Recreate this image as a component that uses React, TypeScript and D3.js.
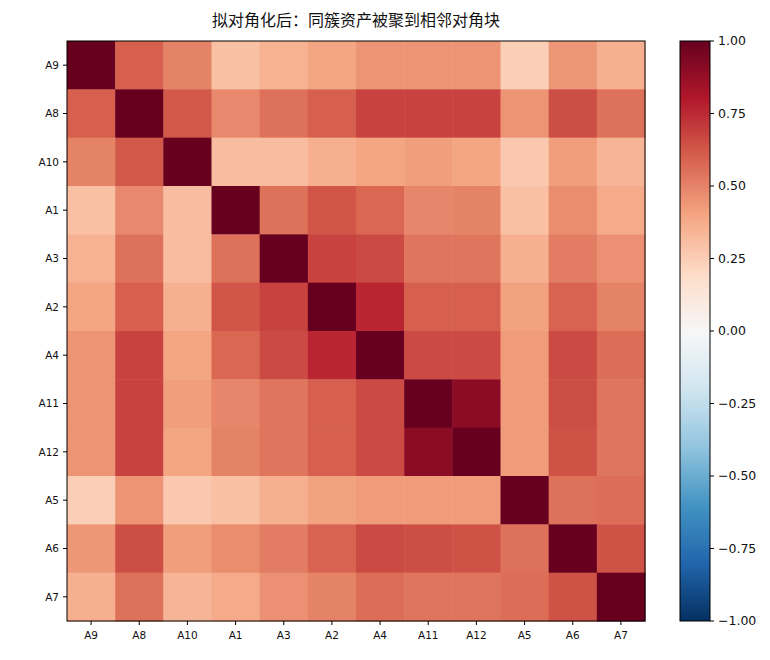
import * as d3 from "d3";

const title = "拟对角化后：同簇资产被聚到相邻对角块";
const assets = ["A9", "A8", "A10", "A1", "A3", "A2", "A4", "A11", "A12", "A5", "A6", "A7"];
// correlation matrix, rows/cols in the order of `assets`
const corr = [
  [1.0, 0.6, 0.5, 0.3, 0.35, 0.4, 0.45, 0.45, 0.45, 0.25, 0.44, 0.36],
  [0.6, 1.0, 0.62, 0.48, 0.55, 0.6, 0.68, 0.68, 0.68, 0.45, 0.65, 0.55],
  [0.5, 0.62, 1.0, 0.31, 0.31, 0.36, 0.4, 0.42, 0.4, 0.27, 0.42, 0.34],
  [0.3, 0.48, 0.31, 1.0, 0.55, 0.63, 0.58, 0.49, 0.5, 0.3, 0.47, 0.38],
  [0.35, 0.55, 0.31, 0.55, 1.0, 0.68, 0.66, 0.54, 0.54, 0.36, 0.52, 0.46],
  [0.4, 0.6, 0.36, 0.63, 0.68, 1.0, 0.76, 0.6, 0.6, 0.41, 0.59, 0.5],
  [0.45, 0.68, 0.4, 0.58, 0.66, 0.76, 1.0, 0.66, 0.66, 0.43, 0.66, 0.56],
  [0.45, 0.68, 0.42, 0.49, 0.54, 0.6, 0.66, 1.0, 0.9, 0.43, 0.65, 0.54],
  [0.45, 0.68, 0.4, 0.5, 0.54, 0.6, 0.66, 0.9, 1.0, 0.43, 0.64, 0.54],
  [0.25, 0.45, 0.27, 0.3, 0.36, 0.41, 0.43, 0.43, 0.43, 1.0, 0.55, 0.56],
  [0.44, 0.65, 0.42, 0.47, 0.52, 0.59, 0.66, 0.65, 0.64, 0.55, 1.0, 0.64],
  [0.36, 0.55, 0.34, 0.38, 0.46, 0.5, 0.56, 0.54, 0.54, 0.56, 0.64, 1.0],
];
const cbarTicks = [1, 0.75, 0.5, 0.25, 0, -0.25, -0.5, -0.75, -1];

// RdBu_r, linear segments like matplotlib
const rdbu = ["#67001f", "#b2182b", "#d6604d", "#f4a582", "#fddbc7", "#f7f7f7",
  "#d1e5f0", "#92c5de", "#4393c3", "#2166ac", "#053061"];
const color = d3.scaleLinear<string>()
  .domain(d3.range(11).map(i => 1 - i * 0.2))
  .range(rdbu)
  .interpolate(d3.interpolateRgb)
  .clamp(true);

const W = 770, H = 660;
const plot = { left: 67, top: 41, right: 645, bottom: 621 };
const cbar = { left: 680, right: 710 };
const font = "'Century Gothic', 'DejaVu Sans', sans-serif";

export default function App() {
  const x = d3.scaleBand().domain(assets).range([plot.left, plot.right]);
  const y = d3.scaleBand().domain(assets).range([plot.top, plot.bottom]);
  const cy = d3.scaleLinear().domain([-1, 1]).range([plot.bottom, plot.top]);
  const stops = d3.range(0, 1.0001, 0.02);

  return (
    <svg width={W} height={H} style={{ position: "absolute", left: 0, top: 0, background: "#fff" }}>
      <defs>
        <linearGradient id="cb" x1="0" y1="1" x2="0" y2="0">
          {stops.map(t => (
            <stop key={t} offset={t} stopColor={color(-1 + 2 * t)} />
          ))}
        </linearGradient>
      </defs>
      <text x={(plot.left + plot.right) / 2} y={26} textAnchor="middle"
        fontFamily="'Noto Sans CJK SC', sans-serif" fontSize={16} fill="#111">{title}</text>

      {corr.map((row, i) => row.map((v, j) => (
        <rect key={`${i}-${j}`} x={x(assets[j])} y={y(assets[i])}
          width={x.bandwidth() + 0.5} height={y.bandwidth() + 0.5} fill={color(v)} />
      )))}
      <rect x={plot.left} y={plot.top} width={plot.right - plot.left} height={plot.bottom - plot.top}
        fill="none" stroke="#000" strokeWidth={1} />

      {assets.map(a => (
        <g key={"y" + a}>
          <line x1={plot.left - 4} x2={plot.left} y1={y(a)! + y.bandwidth() / 2} y2={y(a)! + y.bandwidth() / 2} stroke="#000" />
          <text x={plot.left - 8} y={y(a)! + y.bandwidth() / 2} dy="0.35em" textAnchor="end"
            fontFamily={font} fontSize={10.5} fill="#111">{a}</text>
        </g>
      ))}
      {assets.map(a => (
        <g key={"x" + a}>
          <line y1={plot.bottom} y2={plot.bottom + 4} x1={x(a)! + x.bandwidth() / 2} x2={x(a)! + x.bandwidth() / 2} stroke="#000" />
          <text y={plot.bottom + 18} x={x(a)! + x.bandwidth() / 2} textAnchor="middle"
            fontFamily={font} fontSize={10.5} fill="#111">{a}</text>
        </g>
      ))}

      <rect x={cbar.left} y={plot.top} width={cbar.right - cbar.left} height={plot.bottom - plot.top}
        fill="url(#cb)" stroke="#000" strokeWidth={1} />
      {cbarTicks.map(t => (
        <g key={"c" + t}>
          <line x1={cbar.right} x2={cbar.right + 4} y1={cy(t)} y2={cy(t)} stroke="#000" />
          <text x={cbar.right + 8} y={cy(t)} dy="0.35em" fontFamily={font} fontSize={12.5} fill="#111">
            {d3.format(".2f")(t).replace("-", "-")}
          </text>
        </g>
      ))}
    </svg>
  );
}
